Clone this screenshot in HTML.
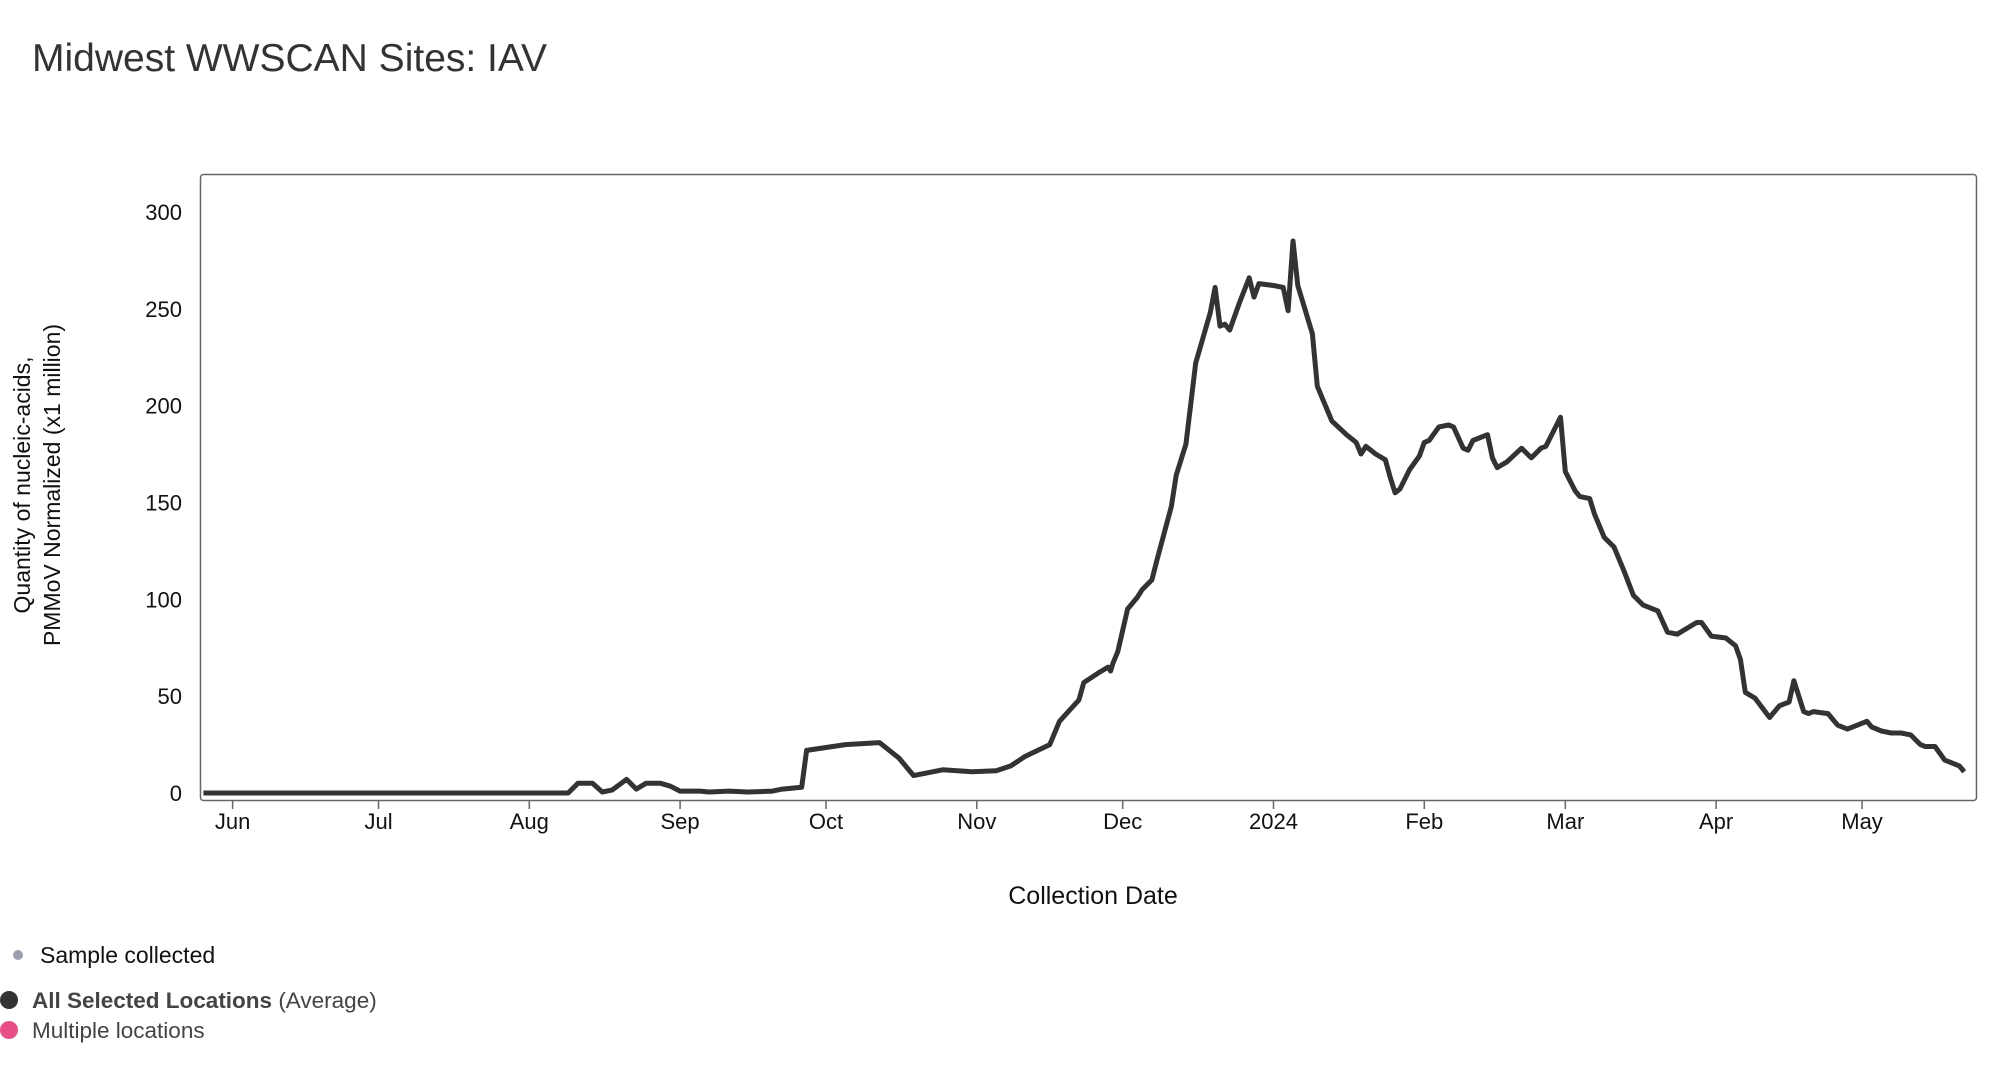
<!DOCTYPE html>
<html><head><meta charset="utf-8"><style>
body{margin:0;background:#fff;width:2016px;height:1060px;overflow:hidden;font-family:"Liberation Sans",sans-serif}
</style></head><body>
<svg width="2016" height="1060" xmlns="http://www.w3.org/2000/svg">
<text x="32" y="71" font-size="39" fill="#333">Midwest WWSCAN Sites: IAV</text>
<rect x="200.5" y="174.5" width="1776" height="626" rx="3" fill="none" stroke="#666" stroke-width="1.5"/>
<g id="yaxis"></g>
<g id="xaxis"></g>
<g transform="translate(0,485) rotate(-90)">
<text x="0" y="30" font-size="23" fill="#111" text-anchor="middle">Quantity of nucleic-acids,</text>
<text x="0" y="60" font-size="23" fill="#111" text-anchor="middle">PMMoV Normalized (x1 million)</text>
</g>
<text x="1093" y="904" font-size="25" fill="#111" text-anchor="middle">Collection Date</text>
<path id="line" fill="none" stroke="#333" stroke-width="5" stroke-linejoin="round"/>
<g>
<circle cx="18" cy="955" r="5" fill="#9aa0ad"/>
<text x="40" y="963" font-size="23" fill="#111">Sample collected</text>
<circle cx="9" cy="1000" r="9" fill="#333"/>
<text x="32" y="1008" font-size="22.5" fill="#444"><tspan font-weight="bold">All Selected Locations</tspan> (Average)</text>
<circle cx="9" cy="1030" r="9" fill="#e94f86"/>
<text x="32" y="1038" font-size="22.5" fill="#444">Multiple locations</text>
</g>
</svg>
<script>
const days=[-6,69,71,74,76,78,81,83,85,88,90,92,96,98,102,106,111,113,117,118,126,133,137,140,146,152,157,160,163,168,170,174,175,178,180,180.5,181,182,184,186,187,189,190,193,194,196,198,201,202,203,204,205,207,209,210,211,214,216,217,218,219,222,223,226,229,231,232,233,235,237,238,239,240,242,244,245,246,248,250,251,253,254,255,258,259,260,262,265,267,269,270,273,274,276,277,279,280,282,284,286,288,290,293,295,297,301,302,304,307,309,310,311,313,316,318,320,321,323,324,325,328,330,332,336,337,339,341,343,345,347,348,350,352,355,356];
const values=[0,0,5,5,0.5,1.5,7,2,5,5,3.5,1,1,0.5,1,0.5,1,2,3,22,25,26,18,9,12,11,11.5,14,19,25,37,48,57,62,65,63,67,73,95,101,105,110,120,148,164,180,222,248,261,241,242,239,253,266,256,263,262,261,249,285,262,237,210,192,185,181,175,179,175,172,163,155,157,167,174,181,182,189,190,189,178,177,182,185,173,168,171,178,173,178,179,194,166,156,153,152,144,132,127,115,102,97,94,83,82,88,88,81,80,76,69,52,49,39,45,47,58,42,41,42,41,35,33,37,34,32,31,31,30,25,24,24,17,14,11];
const yTicks=[0,50,100,150,200,250,300];
const xTickLabels=["Jun","Jul","Aug","Sep","Oct","Nov","Dec","2024","Feb","Mar","Apr","May"];
const xTickDays=[0,30,61,92,122,153,183,214,245,274,305,335];
const NS="http://www.w3.org/2000/svg";
function xs(d){return 232.6+d*4.864;}
function ys(v){return 793-v*1.937;}
const ya=document.getElementById('yaxis');
yTicks.forEach(v=>{
 const t=document.createElementNS(NS,'text');
 t.setAttribute('x',182);t.setAttribute('y',ys(v)+8);t.setAttribute('font-size','22');t.setAttribute('fill','#111');t.setAttribute('text-anchor','end');
 t.textContent=v;
 
 
 ya.appendChild(t);
});
const xa=document.getElementById('xaxis');
xTickLabels.forEach((lab,i)=>{
 const x=xs(xTickDays[i]);
 const l=document.createElementNS(NS,'line');
 l.setAttribute('x1',x);l.setAttribute('x2',x);l.setAttribute('y1',801);l.setAttribute('y2',809);l.setAttribute('stroke','#666');l.setAttribute('stroke-width','1.5');
 
 
 xa.appendChild(l);
 const t=document.createElementNS(NS,'text');
 t.setAttribute('x',x);t.setAttribute('y',829);t.setAttribute('font-size','22');t.setAttribute('fill','#111');t.setAttribute('text-anchor','middle');
 t.textContent=lab;
 
 
 xa.appendChild(t);
});
let d='';
days.forEach((dd,i)=>{d+=(i?'L':'M')+xs(dd).toFixed(1)+','+ys(values[i]).toFixed(1);});
document.getElementById('line').setAttribute('d',d);
</script>
</body></html>
